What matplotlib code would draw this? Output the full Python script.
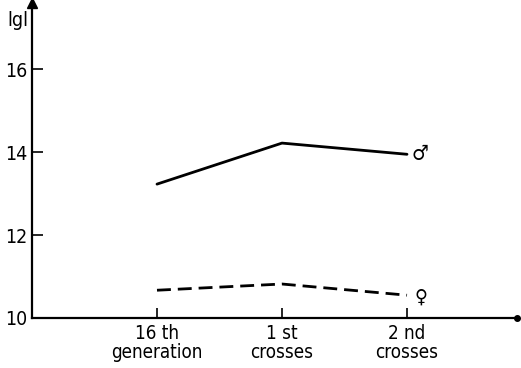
import matplotlib.pyplot as plt

# Data
stages = ["16 th\ngeneration", "1 st\ncrosses", "2 nd\ncrosses"]
positions = [1, 2, 3]
male_g = [13.23, 14.22, 13.95]
female_g = [10.67, 10.82, 10.55]
y_ticks = [10, 12, 14, 16]

plt.rcParams['font.family'] = ['DejaVu Sans']
plt.rcParams['font.stretch'] = 'condensed'

fig = plt.figure(figsize=(5.21, 3.68), dpi=100)
ax = fig.add_axes([32 / 521, 1 - 318 / 368, 485 / 521, 315 / 368])

ax.plot(positions, male_g, color='black', lw=2.0, solid_capstyle='round')
ax.plot(positions, female_g, color='black', lw=2.0, dashes=(5, 2.5))

ax.text(3.04, 13.95, "\u2642", fontsize=15, va='center', ha='left')
ax.text(3.06, 10.5, "\u2640", fontsize=14, va='center', ha='left')

ax.set_xlim(0, 3.88)
ax.set_ylim(10, 17.6)
ax.set_xticks(positions)
ax.set_xticklabels(stages, fontsize=13.5, linespacing=1.0)
ax.set_yticks(y_ticks)
ax.set_yticklabels([str(v) for v in y_ticks], fontsize=14)

for side in ['top', 'right']:
    ax.spines[side].set_visible(False)
for side in ['left', 'bottom']:
    ax.spines[side].set_linewidth(1.6)

ax.tick_params(axis='y', direction='in', length=8, width=1.2, pad=3)
ax.tick_params(axis='x', direction='in', length=7, width=1.2, pad=4)

# arrow on the y axis, dot at the end of the x axis
ax.plot(0, 1, marker='^', color='black', markersize=7,
        transform=ax.transAxes, clip_on=False)
ax.plot(1, 0, marker='o', color='black', markersize=4,
        transform=ax.transAxes, clip_on=False)

fig.text(7 / 521, 1 - 20 / 368, "lgl", fontsize=14, va='center', ha='left')

fig.savefig("out.png", dpi=100)
